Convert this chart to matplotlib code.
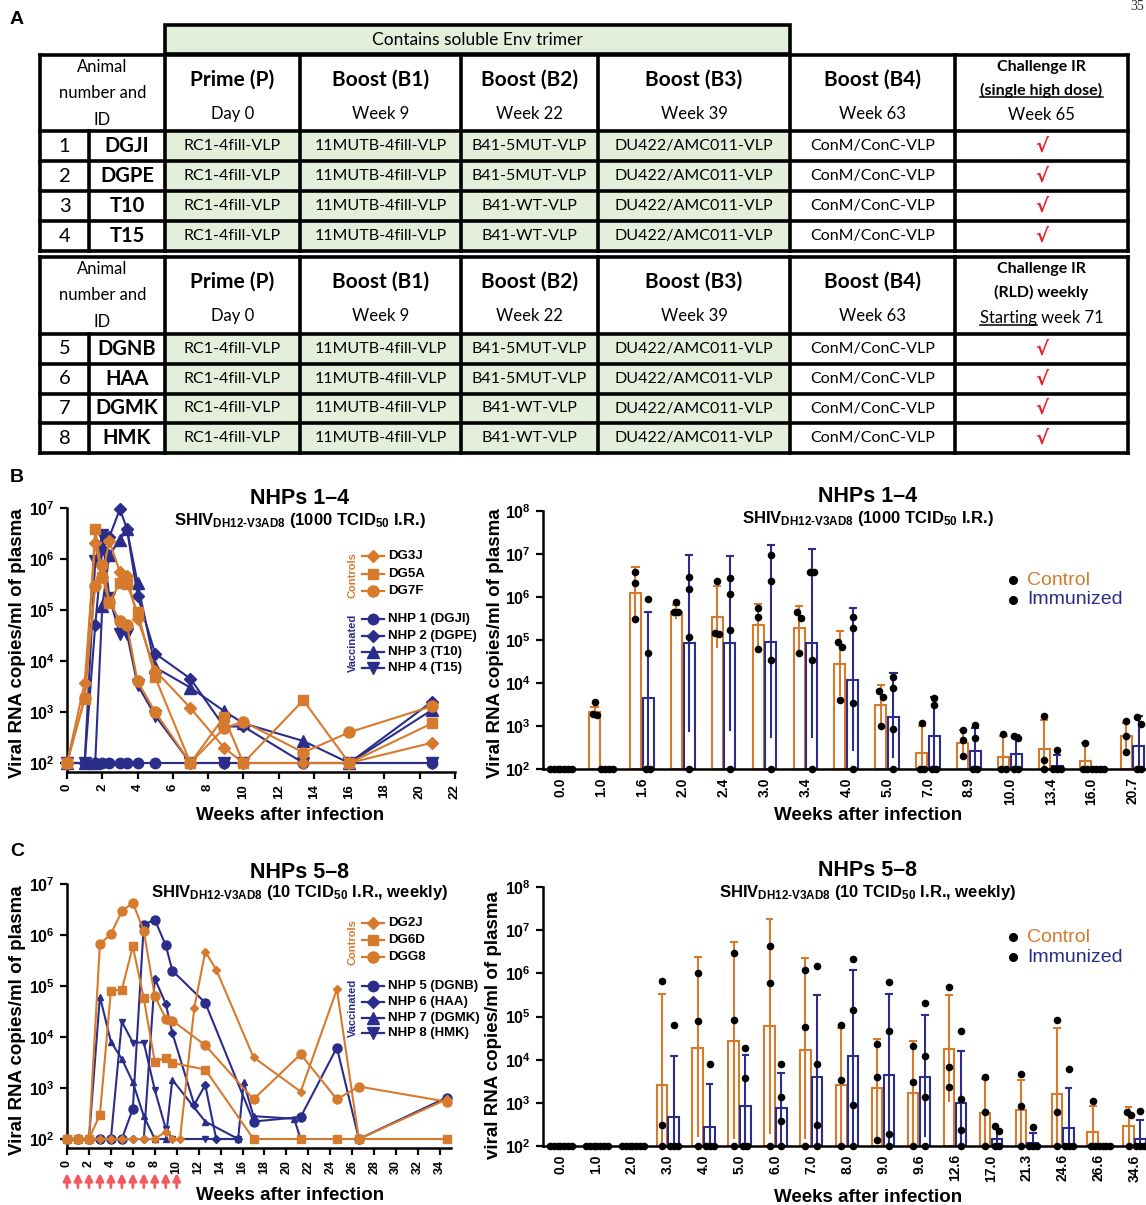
import numpy as np
import matplotlib
matplotlib.use("Agg")
import matplotlib.pyplot as plt
from matplotlib.patches import Rectangle
import matplotlib.ticker as mticker

plt.rcParams['font.family'] = ['Liberation Sans', 'DejaVu Sans']
plt.rcParams['mathtext.fontset'] = 'custom'
plt.rcParams['mathtext.rm'] = 'Liberation Sans'
plt.rcParams['mathtext.bf'] = 'Liberation Sans:bold'
plt.rcParams['mathtext.it'] = 'Liberation Sans:italic'

# ---------------- DATA ----------------
# Table (panel A)
env_header = "Contains soluble Env trimer"
col_titles = ["Prime (P)", "Boost (B1)", "Boost (B2)", "Boost (B3)", "Boost (B4)"]
col_times = ["Day 0", "Week 9", "Week 22", "Week 39", "Week 63"]
t1_nums = ["1", "2", "3", "4"]
t1_ids = ["DGJI", "DGPE", "T10", "T15"]
t2_nums = ["5", "6", "7", "8"]
t2_ids = ["DGNB", "HAA", "DGMK", "HMK"]
prime_imm = ["RC1-4fill-VLP"] * 4
b1_imm = ["11MUTB-4fill-VLP"] * 4
b2_imm = ["B41-5MUT-VLP", "B41-5MUT-VLP", "B41-WT-VLP", "B41-WT-VLP"]
b3_imm = ["DU422/AMC011-VLP"] * 4
b4_imm = ["ConM/ConC-VLP"] * 4
challenge_mark = "\u221a"
t1_challenge = ["Challenge IR", "(single high dose)", "Week 65"]
t2_challenge = ["Challenge IR", "(RLD) weekly", "Starting week 71"]

# Panel B (NHPs 1-4), weeks after infection
b_weeks = [0, 1.0, 1.6, 2.0, 2.4, 3.0, 3.4, 4.0, 5.0, 7.0, 8.9, 10.0, 13.4, 16.0, 20.7]
b_DG3J = [100, 3700, 2.1e6, 4.5e5, 2.3e6, 5.5e5, 4.6e5, 6.8e4, 6500, 1200, 200, 100, 100, 100, 250]
b_DG5A = [100, 1800, 3.8e6, 4.5e5, 1.4e5, 3.4e5, 3.2e5, 9.0e4, 4800, 100, 800, 100, 1700, 100, 600]
b_DG7F = [100, 1900, 3.0e5, 7.5e5, 1.45e5, 6.2e4, 5.1e4, 4000, 1000, 100, 480, 650, 160, 400, 1300]
b_NHP1 = [100, 100, 100, 100, 100, 100, 100, 100, 100, 100, 100, 100, 100, 100, 100]
b_NHP2 = [100, 100, 5.0e4, 1.55e6, 2.7e6, 9.5e6, 3.9e6, 1.9e5, 1.4e4, 4500, 520, 520, 100, 100, 1600]
b_NHP3 = [100, 100, 100, 1.2e5, 1.2e6, 2.4e6, 3.8e6, 3.4e5, 7500, 3000, 1050, 600, 270, 100, 1100]
b_NHP4 = [100, 100, 9.0e5, 2.9e6, 1.75e5, 3.4e4, 3.4e4, 3400, 850, 100, 100, 100, 100, 100, 100]

b_cats = ["0.0", "1.0", "1.6", "2.0", "2.4", "3.0", "3.4", "4.0", "5.0", "7.0", "8.9", "10.0", "13.4", "16.0", "20.7"]
b_ctrl_bar = [100, 2140, 1.26e6, 4.5e5, 3.5e5, 2.2e5, 1.9e5, 2.8e4, 3000, 230, 410, 190, 290, 150, 570]
b_ctrl_hi = [np.nan, 2800, 5.0e6, 6.5e5, 1.8e6, 7.0e5, 6.3e5, 1.6e5, 8900, 1000, 820, 570, 1400, 400, 1150]
b_ctrl_lo = [np.nan, 1700, 3.2e5, 3.2e5, 7.0e4, 6.8e4, 5.5e4, 5200, 1050, 100, 200, 100, 100, 100, 280]
b_imm_bar = [100, 100, 4400, 8.3e4, 8.3e4, 9.0e4, 8.3e4, 1.2e4, 1650, 600, 260, 225, 120, 100, 350]
b_imm_hi = [np.nan, np.nan, 4.5e5, 9.6e6, 9.2e6, 1.6e7, 1.3e7, 5.6e5, 1.7e4, 4800, 920, 620, 210, np.nan, 1700]
b_imm_lo = [np.nan, np.nan, 100, 770, 800, 550, 550, 280, 190, 100, 100, 100, 100, np.nan, 100]

# Panel C (NHPs 5-8)
c_DG2J_w = [0, 1, 2, 3, 4, 5, 6, 7, 8, 9, 9.6, 10.3, 11.6, 12.6, 13.6, 17, 21.3, 24.6, 26.6, 34.6]
c_DG2J = [100, 100, 100, 100, 100, 100, 100, 100, 100, 140, 100, 100, 3.7e4, 4.7e5, 2.1e5, 4000, 850, 8.6e4, 100, 600]
c_DG6D_w = [0, 1, 2, 3, 4, 5, 6, 7, 8, 9, 9.6, 12.6, 17, 21.3, 24.6, 26.6, 34.6]
c_DG6D = [100, 100, 100, 300, 8.0e4, 8.5e4, 6.0e5, 5.7e4, 3300, 3900, 3100, 2300, 100, 100, 100, 100, 100]
c_DGG8_w = [0, 1, 2, 3, 4, 5, 6, 7, 8, 9, 9.6, 12.6, 17, 21.3, 24.6, 26.6, 34.6]
c_DGG8 = [100, 100, 100, 6.6e5, 1.05e6, 2.9e6, 4.3e6, 1.2e6, 6.3e4, 2.3e4, 2.1e4, 6900, 600, 4600, 600, 1070, 540]
c_NHP5_w = [0, 1, 2, 3, 4, 5, 6, 7, 8, 9, 9.6, 12.6, 17, 21.3, 24.6, 26.6, 34.6]
c_NHP5 = [100, 100, 100, 100, 100, 100, 390, 1.6e6, 2.0e6, 6.3e5, 2.0e5, 4.7e4, 220, 270, 6200, 100, 650]
c_NHP6_w = [0, 1, 2, 3, 4, 5, 6, 7, 8, 9, 9.6, 11.6, 12.6, 13.6, 15.6]
c_NHP6 = [100, 100, 100, 100, 100, 100, 100, 100, 1.4e5, 4.5e4, 1.2e4, 470, 1150, 100, 100]
c_NHP7_w = [0, 1, 2, 3, 4, 5, 6, 7, 8, 9, 9.6, 12.6, 15.6, 16.1, 17, 20.7, 21.3]
c_NHP7 = [100, 100, 100, 6.2e4, 8100, 3700, 1300, 280, 100, 100, 1450, 220, 100, 1300, 280, 250, 100]
c_NHP8_w = [0, 1, 2, 3, 4, 5, 6, 7, 8, 9, 9.6, 12.6, 15.6]
c_NHP8 = [100, 100, 100, 100, 100, 2.0e4, 7800, 7800, 920, 160, 100, 100, 100]
challenge_weeks = [0, 1, 2, 3, 4, 5, 6, 7, 8, 9, 10]

c_cats = ["0.0", "1.0", "2.0", "3.0", "4.0", "5.0", "6.0", "7.0", "8.0", "9.0", "9.6", "12.6", "17.0", "21.3", "24.6", "26.6", "34.6"]
c_ctrl_bar = [100, 100, 100, 2600, 1.9e4, 2.7e4, 6.0e4, 1.7e4, 2600, 2150, 1650, 1.8e4, 570, 670, 1600, 210, 290]
c_ctrl_hi = [np.nan, np.nan, np.nan, 3.3e5, 2.4e6, 5.4e6, 1.8e7, 2.3e6, 5.5e4, 3.0e4, 2.7e4, 3.2e5, 3500, 3400, 5.5e4, 850, 810]
c_ctrl_lo = [np.nan, np.nan, np.nan, 100, 170, 155, 200, 155, 125, 170, 120, 1120, 100, 100, 100, 100, 100]
c_imm_bar = [100, 100, 100, 460, 280, 840, 740, 4000, 1.2e4, 4400, 4000, 970, 145, 120, 260, 100, 145]
c_imm_hi = [np.nan, np.nan, np.nan, 1.2e4, 2700, 1.3e4, 5000, 3.2e5, 1.2e6, 3.3e5, 1.1e5, 1.6e4, 250, 200, 2150, np.nan, 400]
c_imm_lo = [np.nan, np.nan, np.nan, 100, 100, 100, 120, 100, 125, 100, 170, 100, 100, 100, 100, np.nan, 100]
c_ctrl_dots = [[100, 100, 100], [100, 100, 100], [100, 100, 100], [6.6e5, 300, 100], [1.0e6, 8.0e4, 100],
               [2.9e6, 8.5e4, 100], [4.3e6, 6.0e5, 100], [1.2e6, 5.7e4, 100], [6.3e4, 3300, 100],
               [2.3e4, 4000, 140], [2.1e4, 3100, 100], [4.7e5, 6900, 2300], [4000, 600, 100],
               [4600, 850, 100], [8.5e4, 600, 100], [1100, 100, 100], [600, 520, 100]]
c_imm_dots = [[100, 100, 100, 100], [100, 100, 100, 100], [100, 100, 100, 100], [6.2e4, 100, 100, 100],
              [8000, 100, 100, 100], [1.9e4, 3700, 100, 100], [7800, 1400, 380, 100],
              [1.5e6, 7800, 300, 100], [2.1e6, 1.4e5, 900, 100], [6.3e5, 4.5e4, 190, 100],
              [2.1e5, 1.2e4, 1400, 100], [4.7e4, 1200, 230, 100], [290, 220, 100, 100],
              [270, 100, 100, 100], [6200, 100, 100, 100], [100, 100, 100, 100], [650, 100, 100, 100]]

# ---------------- STYLE ----------------
ORANGE = '#D67A2E'
BLUE = '#2B2D8A'
GREEN = '#E3EFDA'
ARROW = '#F25A5E'
W, H = 1146, 1205
TFONT = ['Lato', 'DejaVu Sans']

fig = plt.figure(figsize=(W / 100, H / 100), dpi=100)

# ---------------- TABLE (panel A) ----------------
tab = fig.add_axes([0, 0, 1, 1], zorder=0)
tab.set_xlim(0, W)
tab.set_ylim(H, 0)
tab.axis('off')

col_x = [40, 89, 165, 300, 461, 598, 790, 955, 1128]
LW = 2.6


def underline(txt_obj, prefix=None):
    fig.canvas.draw()
    r = fig.canvas.get_renderer()
    bb = txt_obj.get_window_extent(r)
    inv = tab.transData.inverted()
    (x0, y0), (x1, y1) = inv.transform([[bb.x0, bb.y0], [bb.x1, bb.y1]])
    if prefix is not None:
        tmp = tab.text(0, 0, prefix, fontsize=txt_obj.get_fontsize(), family=TFONT,
                       fontweight=txt_obj.get_fontweight())
        bb2 = tmp.get_window_extent(r)
        tmp.remove()
        x1 = x0 + (bb2.x1 - bb2.x0) * (x1 - x0) / (bb.x1 - bb.x0)
    tab.plot([x0, x1], [y0 - 1, y0 - 1], color='black', lw=1.1)


def draw_table(rows_y, nums, ids, chal, chal_y):
    top, hb = rows_y[0], rows_y[1]
    for r in range(4):
        y0, y1 = rows_y[r + 1], rows_y[r + 2]
        tab.add_patch(Rectangle((col_x[2], y0), col_x[6] - col_x[2], y1 - y0, facecolor=GREEN, edgecolor='none'))
    for y in rows_y:
        tab.plot([col_x[0], col_x[-1]], [y, y], color='black', lw=LW, solid_capstyle='projecting')
    for i, x in enumerate(col_x):
        if i == 1:
            tab.plot([x, x], [hb, rows_y[-1]], color='black', lw=LW)
        else:
            tab.plot([x, x], [top, rows_y[-1]], color='black', lw=LW)
    for k, s in enumerate(["Animal", "number and", "ID"]):
        tab.text((col_x[0] + col_x[2]) / 2, top + 12 + k * 26.5, s, ha='center', va='center',
                 fontsize=12, family=TFONT)
    for j in range(5):
        xc = (col_x[j + 2] + col_x[j + 3]) / 2
        tab.text(xc, top + 25, col_titles[j], ha='center', va='center', fontsize=15,
                 fontweight='bold', family=TFONT)
        tab.text(xc, top + 59, col_times[j], ha='center', va='center', fontsize=12, family=TFONT)
    xc = (col_x[7] + col_x[8]) / 2
    t_a = tab.text(xc, chal_y[0], chal[0], ha='center', va='center', fontsize=11.5, fontweight='bold', family=TFONT)
    t_b = tab.text(xc, chal_y[1], chal[1], ha='center', va='center', fontsize=11.5, fontweight='bold', family=TFONT)
    t_c = tab.text(xc, chal_y[2], chal[2], ha='center', va='center', fontsize=12, family=TFONT)
    for r in range(4):
        yc = (rows_y[r + 2] + rows_y[r + 1]) / 2
        tab.text((col_x[0] + col_x[1]) / 2, yc, nums[r], ha='center', va='center', fontsize=14.5, family=TFONT)
        tab.text((col_x[1] + col_x[2]) / 2, yc, ids[r], ha='center', va='center', fontsize=14.5,
                 fontweight='bold', family=TFONT)
        for j, lst in enumerate([prime_imm, b1_imm, b2_imm, b3_imm, b4_imm]):
            tab.text((col_x[j + 2] + col_x[j + 3]) / 2, yc, lst[r], ha='center', va='center',
                     fontsize=11.5, family=TFONT)
        tab.text((col_x[7] + col_x[8]) / 2, yc, challenge_mark, ha='center', va='center', fontsize=14,
                 fontweight='bold', color='#E8202A', family=['DejaVu Sans'])
    return t_a, t_b, t_c


tab.add_patch(Rectangle((col_x[2], 25), col_x[6] - col_x[2], 29, facecolor=GREEN, edgecolor='black', lw=LW))
tab.text((col_x[2] + col_x[6]) / 2, 40, env_header, ha='center', va='center', fontsize=12.5, family=TFONT)

rows1 = [55, 131, 161, 191, 221, 251]
rows2 = [257, 334, 364, 394, 423, 453]
t1 = draw_table(rows1, t1_nums, t1_ids, t1_challenge, [67, 90, 115])
t2 = draw_table(rows2, t2_nums, t2_ids, t2_challenge, [269, 292, 318])
underline(t1[1])
underline(t2[2], prefix="Starting")

for lab, (lx, ly) in {"A": (17, 20), "B": (17, 478), "C": (17, 852)}.items():
    fig.text(lx / W, 1 - ly / H, lab, fontsize=14, fontweight='bold', ha='center', va='center')
fig.text(1144 / W, 1 - 7 / H, "35", fontsize=10, family='Liberation Serif', ha='right', va='center',
         color='#333333')


# ---------------- helpers ----------------
def px_axes(x0, y0, x1, y1):
    return fig.add_axes([x0 / W, 1 - y1 / H, (x1 - x0) / W, (y1 - y0) / H], zorder=2)


def style_axes(ax, ylo, yhi, decades):
    ax.set_yscale('log')
    ax.set_ylim(ylo, yhi)
    for s in ['top', 'right']:
        ax.spines[s].set_visible(False)
    for s in ['left', 'bottom']:
        ax.spines[s].set_linewidth(1.8)
    ax.set_yticks([10.0 ** d for d in decades])
    ax.set_yticklabels([r'$\mathbf{10^{%d}}$' % d for d in decades], fontsize=11.5)
    ax.yaxis.set_minor_locator(mticker.NullLocator())
    ax.tick_params(axis='both', width=1.6, length=5, direction='out', colors='black')
    ax.patch.set_alpha(0)


def sub_title(x, y, title, dose):
    fig.text(x / W, 1 - y[0] / H, title, fontsize=15.5, fontweight='bold', ha='center', va='center')
    fig.text(x / W, 1 - y[1] / H,
             'SHIV$_{\\mathbf{DH12\u2010V3AD8}}$ (' + dose[0] + ' TCID$_{\\mathbf{50}}$ ' + dose[1] + ')',
             fontsize=12, fontweight='bold', ha='center', va='center')


def spread(vals, step):
    v = np.log10(np.asarray(vals, float))
    order = np.argsort(-v, kind='stable')
    groups = []
    for i in order:
        if groups and abs(v[groups[-1][-1]] - v[i]) < 0.17:
            groups[-1].append(i)
        else:
            groups.append([i])
    offs = np.zeros(len(v))
    for g in groups:
        n = len(g)
        for k, i in enumerate(g):
            offs[i] = (k - (n - 1) / 2) * step
    return offs


def line_legend(ax_items, x_mark, x_text, ys, x_group, grp):
    for (lab, mk, col, ms), y in zip(ax_items, ys):
        yy = 1 - y / H
        fig.add_artist(plt.Line2D([(x_mark - 11) / W, (x_mark + 11) / W], [yy, yy], color=col, lw=1.6,
                                  transform=fig.transFigure))
        fig.add_artist(plt.Line2D([x_mark / W], [yy], marker=mk, color=col, markersize=ms,
                                  transform=fig.transFigure))
        fig.text(x_text / W, yy, lab, fontsize=9.5, fontweight='bold', ha='left', va='center')
    for (txt, col, yc) in grp:
        fig.text(x_group / W, 1 - yc / H, txt, rotation=90, fontsize=8, fontweight='bold', color=col,
                 ha='center', va='center')


def bar_panel(ax, cats, cbar, chi, clo, ibar, ihi, ilo, cdots, idots, bw, step):
    n = len(cats)
    x = np.arange(n)
    off = bw / 2 + 0.02
    for xs, bar, hi, lo, col, dots in [(x - off, cbar, chi, clo, ORANGE, cdots), (x + off, ibar, ihi, ilo, BLUE, idots)]:
        bar = np.asarray(bar, float)
        ax.bar(xs, bar - 100, bottom=100, width=bw, facecolor='white', edgecolor=col, lw=1.5, zorder=2)
        for xi, b, h, l in zip(xs, bar, hi, lo):
            if not np.isnan(h):
                ax.plot([xi, xi], [b, h], color=col, lw=1.5, zorder=3)
                ax.plot([xi - bw * 0.28, xi + bw * 0.28], [h, h], color=col, lw=1.5, zorder=3)
            if not np.isnan(l):
                ax.plot([xi, xi], [l, b], color=col, lw=1.5, zorder=3)
        for xi, d in zip(xs, dots):
            o = spread(d, step)
            ax.scatter(xi + o, d, s=30, color='black', zorder=5, clip_on=False, linewidths=0)
    ax.set_xticks(x)
    ax.set_xticklabels(cats, rotation=90, fontsize=10, fontweight='bold')
    ax.tick_params(axis='x', length=0, pad=6)


def bar_legend(x_dot, x_text, ys):
    for lab, col, y in zip(["Control", "Immunized"], [ORANGE, BLUE], ys):
        fig.add_artist(plt.Line2D([x_dot / W], [1 - y / H], marker='o', color='black', markersize=5.5,
                                  transform=fig.transFigure))
        fig.text(x_text / W, 1 - y / H, lab, fontsize=14, color=col, ha='left', va='center')


# ---------------- PANEL B left ----------------
axb = px_axes(67, 508, 455, 772)
style_axes(axb, 10 ** (2 - 9 / 51), 1e7, range(2, 8))
axb.set_xlim(0, 22)
axb.set_xticks(range(0, 23, 2))
axb.set_xticklabels([str(v) for v in range(0, 23, 2)], rotation=90, fontsize=9.5, fontweight='bold')
b_vacc = [(b_NHP1, 'o', 7.5), (b_NHP2, 'D', 6.5), (b_NHP3, '^', 8), (b_NHP4, 'v', 8)]
b_ctrl = [(b_DG3J, 'D', 6), (b_DG5A, 's', 7.5), (b_DG7F, 'o', 8)]
for vals, mk, ms in b_vacc:
    axb.plot(b_weeks, vals, color=BLUE, marker=mk, markersize=ms, lw=1.5, clip_on=False, zorder=3)
for vals, mk, ms in b_ctrl:
    axb.plot(b_weeks, vals, color=ORANGE, marker=mk, markersize=ms, lw=1.5, clip_on=False, zorder=4)
sub_title(300, (498, 520), "NHPs 1\u20134", ("1000", "I.R."))
line_legend([("DG3J", 'D', ORANGE, 6), ("DG5A", 's', ORANGE, 7.5), ("DG7F", 'o', ORANGE, 8),
             ("NHP 1 (DGJI)", 'o', BLUE, 7.5), ("NHP 2 (DGPE)", 'D', BLUE, 6.5),
             ("NHP 3 (T10)", '^', BLUE, 8), ("NHP 4 (T15)", 'v', BLUE, 8)],
            373, 388, [556, 574, 591, 619, 636, 652, 668], 353,
            [("Controls", ORANGE, 575), ("Vaccinated", BLUE, 643)])
fig.text(18 / W, 1 - 643 / H, "Viral RNA copies/ml of plasma", rotation=90, fontsize=13.5, fontweight='bold',
         ha='center', va='center')
fig.text(290 / W, 1 - 816 / H, "Weeks after infection", fontsize=13.5, fontweight='bold', ha='center', va='center')

# ---------------- PANEL B right ----------------
axbr = px_axes(543, 511, 1173, 769)
style_axes(axbr, 1e2, 1e8, range(2, 9))
axbr.set_xlim(-0.416, 14.99)
b_ctrl_dots = [[b_DG3J[i], b_DG5A[i], b_DG7F[i]] for i in range(len(b_cats))]
b_imm_dots = [[b_NHP1[i], b_NHP2[i], b_NHP3[i], b_NHP4[i]] for i in range(len(b_cats))]
bar_panel(axbr, b_cats, b_ctrl_bar, b_ctrl_hi, b_ctrl_lo, b_imm_bar, b_imm_hi, b_imm_lo,
          b_ctrl_dots, b_imm_dots, 0.27, 0.1)
sub_title(868, (497, 519), "NHPs 1\u20134", ("1000", "I.R."))
bar_legend(1013, 1027, [580, 600])
fig.text(495 / W, 1 - 643 / H, "Viral RNA copies/ml of plasma", rotation=90, fontsize=13.5, fontweight='bold',
         ha='center', va='center')
fig.text(868 / W, 1 - 816 / H, "Weeks after infection", fontsize=13.5, fontweight='bold', ha='center', va='center')

# ---------------- PANEL C left ----------------
axc = px_axes(67, 884, 451, 1148)
style_axes(axc, 10 ** (2 - 9 / 51), 1e7, range(2, 8))
axc.set_xlim(0, 35)
axc.set_xticks(range(0, 35, 2))
axc.set_xticklabels([str(v) for v in range(0, 35, 2)], rotation=90, fontsize=9, fontweight='bold')
c_vacc = [(c_NHP5_w, c_NHP5, 'o', 6.5), (c_NHP6_w, c_NHP6, 'D', 4.5),
          (c_NHP7_w, c_NHP7, '^', 5), (c_NHP8_w, c_NHP8, 'v', 5)]
c_ctrl = [(c_DG2J_w, c_DG2J, 'D', 4.5), (c_DG6D_w, c_DG6D, 's', 6), (c_DGG8_w, c_DGG8, 'o', 6.5)]
for wk, vals, mk, ms in c_vacc:
    axc.plot(wk, vals, color=BLUE, marker=mk, markersize=ms, lw=1.5, clip_on=False, zorder=3)
for wk, vals, mk, ms in c_ctrl:
    axc.plot(wk, vals, color=ORANGE, marker=mk, markersize=ms, lw=1.5, clip_on=False, zorder=4)
for w in challenge_weeks:
    axc.annotate('', xy=(w, -0.095), xytext=(w, -0.15), xycoords=axc.get_xaxis_transform(),
                 textcoords=axc.get_xaxis_transform(),
                 arrowprops=dict(arrowstyle='-|>', color=ARROW, lw=2, mutation_scale=11, shrinkA=0, shrinkB=0),
                 annotation_clip=False)
sub_title(300, (872, 893), "NHPs 5\u20138", ("10", "I.R., weekly"))
line_legend([("DG2J", 'D', ORANGE, 6), ("DG6D", 's', ORANGE, 7.5), ("DGG8", 'o', ORANGE, 8),
             ("NHP 5 (DGNB)", 'o', BLUE, 7.5), ("NHP 6 (HAA)", 'D', BLUE, 6.5),
             ("NHP 7 (DGMK)", '^', BLUE, 8), ("NHP 8 (HMK)", 'v', BLUE, 8)],
            373, 388, [923, 940, 957, 986, 1002, 1018, 1033], 353,
            [("Controls", ORANGE, 942), ("Vaccinated", BLUE, 1008)])
fig.text(18 / W, 1 - 1020 / H, "Viral RNA copies/ml of plasma", rotation=90, fontsize=13.5, fontweight='bold',
         ha='center', va='center')
fig.text(290 / W, 1 - 1195 / H, "Weeks after infection", fontsize=13.5, fontweight='bold', ha='center', va='center')

# ---------------- PANEL C right ----------------
axcr = px_axes(543, 887, 1170, 1146)
style_axes(axcr, 1e2, 1e8, range(2, 9))
axcr.set_xlim(-0.474, 16.99)
bar_panel(axcr, c_cats, c_ctrl_bar, c_ctrl_hi, c_ctrl_lo, c_imm_bar, c_imm_hi, c_imm_lo,
          c_ctrl_dots, c_imm_dots, 0.29, 0.11)
sub_title(868, (871, 892), "NHPs 5\u20138", ("10", "I.R., weekly"))
bar_legend(1013, 1027, [937, 957])
fig.text(493 / W, 1 - 1025 / H, "viral RNA copies/ml of plasma", rotation=90, fontsize=13.5, fontweight='bold',
         ha='center', va='center')
fig.text(868 / W, 1 - 1197 / H, "Weeks after infection", fontsize=13.5, fontweight='bold', ha='center', va='center')

fig.savefig("out.png", dpi=100)
